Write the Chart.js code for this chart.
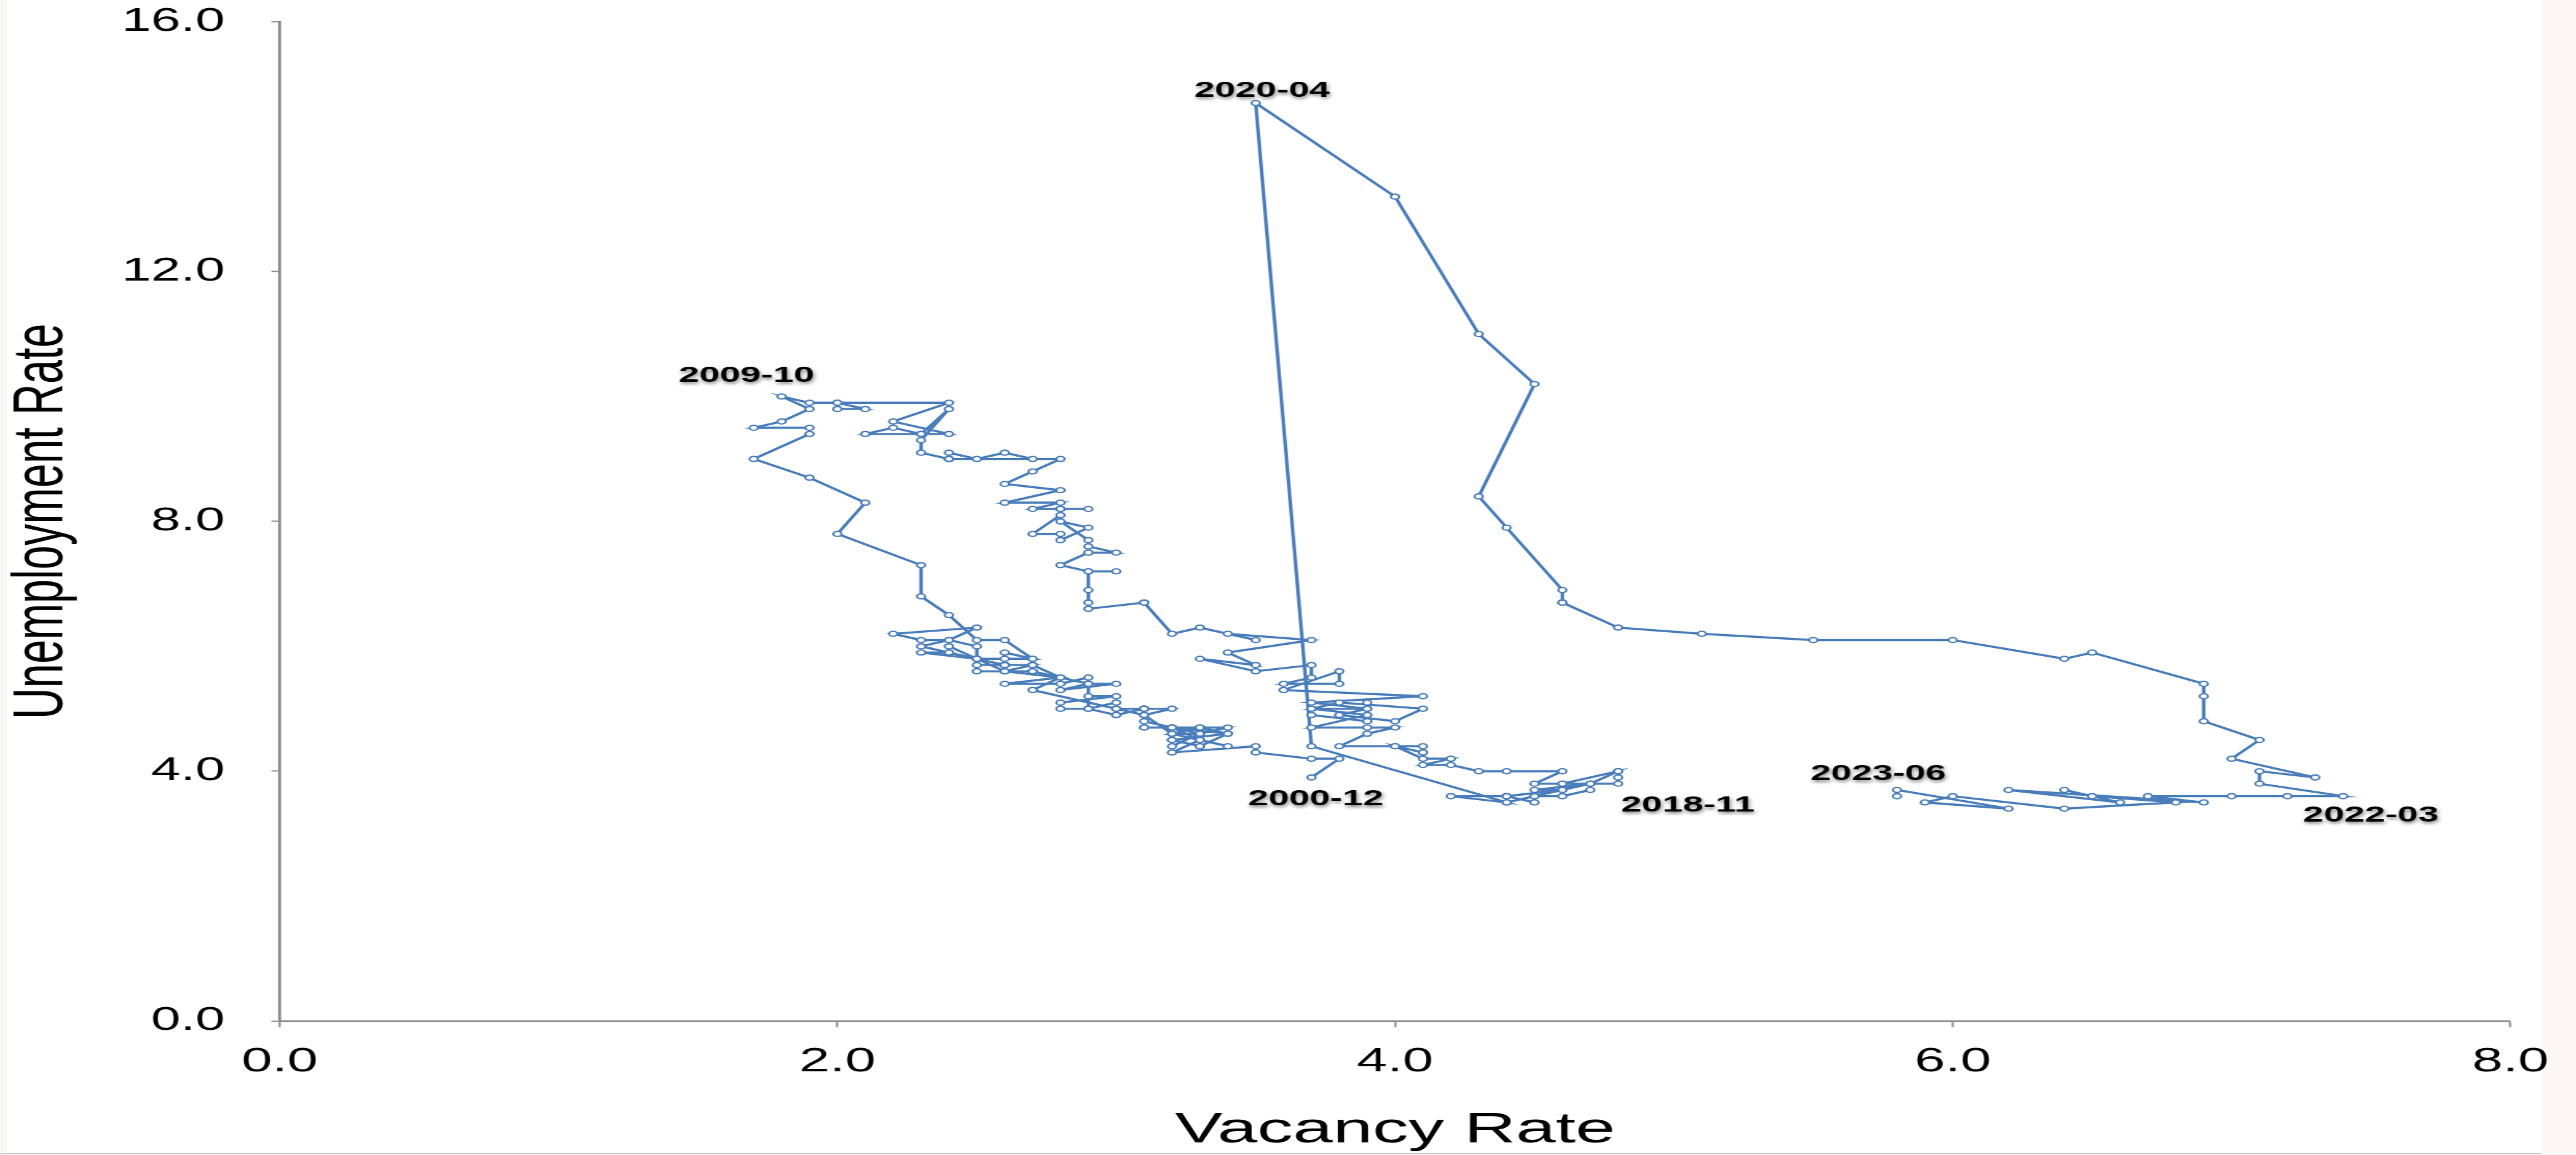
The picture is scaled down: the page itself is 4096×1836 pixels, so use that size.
<!DOCTYPE html>
<html>
<head>
<meta charset="utf-8">
<script src="https://cdn.jsdelivr.net/npm/chart.js@4.4.0/dist/chart.umd.min.js"></script>
<style>
  html, body { margin: 0; padding: 0; background: #ffffff; overflow: hidden; width: 4096px; height: 1836px; }
  #stage { position: absolute; left: 0; top: 0; width: 2482px; height: 1836px; transform: scaleX(1.65024); transform-origin: 0 0; }
  #edgeL { position: absolute; left: 0; top: 0; width: 11px; height: 1836px; background: #fcf7f6; }
  #edgeR { position: absolute; left: 4041px; top: 0; width: 55px; height: 1836px; background: #fcf6f5; }
  #edgeB { position: absolute; left: 0; top: 1833px; width: 4041px; height: 2px; background: #cdcdcd; }
</style>
</head>
<body>
<div id="edgeL"></div>
<div id="edgeR"></div>
<div id="edgeB"></div>
<div id="stage"><canvas id="chart" width="2482" height="1836"></canvas></div>
<script>
// ---------------- data ----------------
const firstYear = 2000;
const firstMonth = 12;           // series starts 2000-12, monthly

// Job vacancy rate (x), one value per month, 2000-12 .. 2023-06
const vacancyRate = [
  3.7,                                                      // 2000-12
  3.8,3.7,3.5,3.5,3.2,3.3,3.2,3.1,3.0,2.7,2.8,2.7,          // 2001
  2.7,2.6,2.6,2.6,2.7,2.6,2.5,2.6,2.5,2.6,2.4,2.4,          // 2002
  2.5,2.3,2.4,2.3,2.4,2.5,2.2,2.3,2.4,2.5,2.5,2.6,          // 2003
  2.7,2.6,2.5,2.5,2.7,2.6,2.8,2.6,2.8,2.9,2.9,3.0,          // 2004
  2.8,2.9,2.9,3.0,2.8,2.8,2.9,3.0,3.0,3.1,3.2,3.1,          // 2005
  3.1,3.1,3.2,3.3,3.2,3.3,3.4,3.2,3.3,3.4,3.3,3.3,          // 2006
  3.4,3.2,3.3,3.2,3.2,3.3,3.2,3.4,3.3,3.2,3.1,3.1,          // 2007
  3.1,3.0,3.0,2.9,2.9,2.7,2.7,2.6,2.5,2.4,2.3,2.3,          // 2008
  2.0,2.1,1.9,1.7,1.9,1.9,1.7,1.8,1.9,1.8,1.9,2.0,          // 2009
  2.0,2.1,2.0,2.4,2.2,2.4,2.1,2.2,2.3,2.3,2.4,2.3,          // 2010
  2.3,2.4,2.4,2.4,2.5,2.6,2.7,2.4,2.8,2.7,2.6,2.8,          // 2011
  2.6,2.8,2.7,2.8,2.9,2.8,2.8,2.8,2.7,2.8,2.8,2.9,          // 2012
  2.8,2.9,2.9,2.9,3.0,2.9,2.8,2.9,3.0,2.9,2.9,2.9,          // 2013
  2.9,3.1,3.1,3.2,3.3,3.5,3.4,3.7,3.4,3.5,3.3,3.5,          // 2014
  3.7,3.7,3.6,3.8,3.8,3.6,4.1,3.7,3.9,3.7,3.8,4.1,          // 2015
  4.0,3.8,3.9,3.9,3.9,3.7,3.9,3.9,3.7,3.9,3.7,3.9,          // 2016
  4.0,3.9,3.8,4.0,4.1,4.1,4.1,4.0,4.1,4.2,4.1,4.2,          // 2017
  4.3,4.4,4.6,4.5,4.6,4.8,4.7,4.5,4.6,4.7,4.8,4.8,          // 2018
  4.8,4.6,4.7,4.7,4.6,4.5,4.6,4.4,4.5,4.5,4.4,4.4,          // 2019
  4.2,4.4,3.7,3.5,4.0,4.3,4.5,4.3,4.4,4.6,4.6,4.6,          // 2020
  4.8,5.1,5.5,6.0,6.4,6.5,6.9,6.9,6.9,7.1,7.0,7.3,          // 2021
  7.1,7.1,7.4,7.2,7.0,6.7,6.9,6.2,6.6,6.4,6.5,6.8,          // 2022
  6.4,6.0,5.9,6.2,5.8,5.8                                   // 2023
];

// Unemployment rate (y), same months
const unemploymentRate = [
  3.9,                                                      // 2000-12
  4.2,4.2,4.3,4.4,4.3,4.5,4.6,4.9,5.0,5.3,5.5,5.7,          // 2001
  5.7,5.7,5.7,5.9,5.8,5.8,5.8,5.7,5.7,5.7,5.9,6.0,          // 2002
  5.8,5.9,5.9,6.0,6.1,6.3,6.2,6.1,6.1,6.0,5.8,5.7,          // 2003
  5.7,5.6,5.8,5.6,5.6,5.6,5.5,5.4,5.4,5.5,5.4,5.4,          // 2004
  5.3,5.4,5.2,5.2,5.1,5.0,5.0,4.9,5.0,5.0,5.0,4.9,          // 2005
  4.7,4.8,4.7,4.7,4.6,4.6,4.7,4.7,4.5,4.4,4.5,4.4,          // 2006
  4.6,4.5,4.4,4.5,4.4,4.6,4.7,4.6,4.7,4.7,4.7,5.0,          // 2007
  5.0,4.9,5.1,5.0,5.4,5.6,5.8,6.1,6.1,6.5,6.8,7.3,          // 2008
  7.8,8.3,8.7,9.0,9.4,9.5,9.5,9.6,9.8,10.0,9.9,9.9,         // 2009
  9.8,9.8,9.9,9.9,9.6,9.4,9.4,9.5,9.4,9.4,9.8,9.3,          // 2010
  9.1,9.0,9.0,9.1,9.0,9.1,9.0,9.0,9.0,8.8,8.6,8.5,          // 2011
  8.3,8.3,8.2,8.2,8.2,8.2,8.2,8.1,7.8,7.8,7.7,7.9,          // 2012
  8.0,7.7,7.5,7.6,7.5,7.5,7.3,7.2,7.2,7.2,6.9,6.7,          // 2013
  6.6,6.7,6.7,6.2,6.3,6.1,6.2,6.1,5.9,5.7,5.8,5.6,          // 2014
  5.7,5.5,5.4,5.4,5.6,5.3,5.2,5.1,5.0,5.0,5.1,5.0,          // 2015
  4.8,4.9,5.0,5.1,4.8,4.9,4.8,4.9,5.0,4.9,4.7,4.7,          // 2016
  4.7,4.6,4.4,4.4,4.4,4.3,4.3,4.4,4.2,4.2,4.1,4.1,          // 2017
  4.0,4.0,4.0,3.8,3.8,4.0,3.8,3.7,3.7,3.8,3.8,3.9,          // 2018
  4.0,3.8,3.8,3.7,3.6,3.6,3.7,3.6,3.5,3.6,3.5,3.6,          // 2019
  3.6,3.5,4.4,14.7,13.2,11.0,10.2,8.4,7.9,6.9,6.7,6.7,      // 2020
  6.3,6.2,6.1,6.1,5.8,5.9,5.4,5.2,4.8,4.5,4.2,3.9,          // 2021
  4.0,3.8,3.6,3.6,3.6,3.6,3.5,3.7,3.5,3.7,3.6,3.5,          // 2022
  3.4,3.6,3.5,3.4,3.7,3.6                                   // 2023
];

// Months that carry a date label in the chart
const labeledMonths = ['2000-12', '2009-10', '2018-11', '2020-04', '2022-03', '2023-06'];

// Axis ticks and titles
const xTickValues = [0, 2, 4, 6, 8];
const yTickValues = [0, 4, 8, 12, 16];
const xAxisTitle = 'Vacancy Rate';
const yAxisTitle = 'Unemployment Rate';

// ---------------- styling ----------------
const SCALE = 0.847;               // reference -> window
const STRETCH = 4096 / 2482;       // horizontal stretch of the reference drawing
const FONT = "'Liberation Sans', Arial, Helvetica, sans-serif";
const LINE_COLOR = '#4a7ebb';
const AXIS_COLOR = '#8c8c8c';
// label text-centre offsets from their point, in reference pixels
const labelOffsets = {
  '2000-12': [8, 40],
  '2009-10': [-66, -39],
  '2018-11': [131, 41],
  '2020-04': [12, -23],
  '2022-03': [52, 36],
  '2023-06': [-35, -42]
};

// month names for every point
const months = [];
{
  let yr = firstYear, mo = firstMonth;
  for (let i = 0; i < vacancyRate.length; i++) {
    months.push(yr + '-' + String(mo).padStart(2, '0'));
    mo++; if (mo > 12) { mo = 1; yr++; }
  }
}

const points = vacancyRate.map((v, i) => ({ x: v, y: unemploymentRate[i] }));

const dateLabels = {
  id: 'dateLabels',
  afterDatasetsDraw(chart) {
    const { ctx, scales } = chart;
    ctx.save();
    ctx.font = 'bold 35.6px ' + FONT;
    ctx.textAlign = 'center';
    ctx.textBaseline = 'middle';
    ctx.fillStyle = '#000000';
    ctx.shadowColor = 'rgba(0,0,0,0.5)';
    ctx.shadowBlur = 5;
    ctx.shadowOffsetX = 1;
    ctx.shadowOffsetY = 3;
    labeledMonths.forEach(m => {
      const i = months.indexOf(m);
      if (i < 0) return;
      const off = labelOffsets[m];
      const px = scales.x.getPixelForValue(vacancyRate[i]) + off[0] * SCALE / STRETCH;
      const py = scales.y.getPixelForValue(unemploymentRate[i]) + off[1] * SCALE;
      ctx.fillText(m, px, py);
    });
    ctx.restore();
  }
};

new Chart(document.getElementById('chart'), {
  type: 'scatter',
  data: {
    datasets: [{
      data: points,
      showLine: true,
      tension: 0,
      borderColor: LINE_COLOR,
      borderWidth: 3.4,
      pointRadius: 4.0,
      pointBorderWidth: 2.1,
      pointBackgroundColor: '#ffffff',
      pointBorderColor: LINE_COLOR,
      clip: false
    }]
  },
  options: {
    responsive: false,
    animation: false,
    devicePixelRatio: 1,
    events: [],
    layout: { padding: { left: 0, top: 34.7, right: 63.1, bottom: 0 } },
    plugins: { legend: { display: false }, tooltip: { enabled: false } },
    scales: {
      x: {
        type: 'linear', min: 0, max: 8,
        afterBuildTicks: s => { s.ticks = xTickValues.map(v => ({ value: v })); },
        afterFit: s => { s.height = 213; s.paddingLeft = 0; s.paddingRight = 40; },
        border: { display: true, color: AXIS_COLOR, width: 2.8 },
        grid: { display: true, drawOnChartArea: false, drawTicks: true, tickLength: 10, tickColor: AXIS_COLOR, tickWidth: 2 },
        ticks: {
          color: '#000000', padding: 24, autoSkip: false, maxRotation: 0,
          font: { family: FONT, size: 53 },
          callback: v => Number(v).toFixed(1)
        },
        title: {
          display: true, text: xAxisTitle, color: '#000000',
          font: { family: FONT, size: 69, lineHeight: 1 },
          padding: { top: 0, bottom: 5 }
        }
      },
      y: {
        type: 'linear', min: 0, max: 16,
        afterBuildTicks: s => { s.ticks = yTickValues.map(v => ({ value: v })); },
        afterFit: s => { s.width = 269.5; s.paddingTop = 30; s.paddingBottom = 30; },
        border: { display: true, color: AXIS_COLOR, width: 2.8 },
        grid: { display: true, drawOnChartArea: false, drawTicks: true, tickLength: 8, tickColor: AXIS_COLOR, tickWidth: 2 },
        ticks: {
          color: '#000000', padding: 45,
          font: { family: FONT, size: 51 },
          callback: v => Number(v).toFixed(1)
        },
        title: {
          display: true, text: yAxisTitle, color: '#000000',
          font: { family: FONT, size: 69, lineHeight: 1 },
          padding: { top: 6.8, bottom: 0 }
        }
      }
    }
  },
  plugins: [dateLabels]
});
</script>
</body>
</html>
